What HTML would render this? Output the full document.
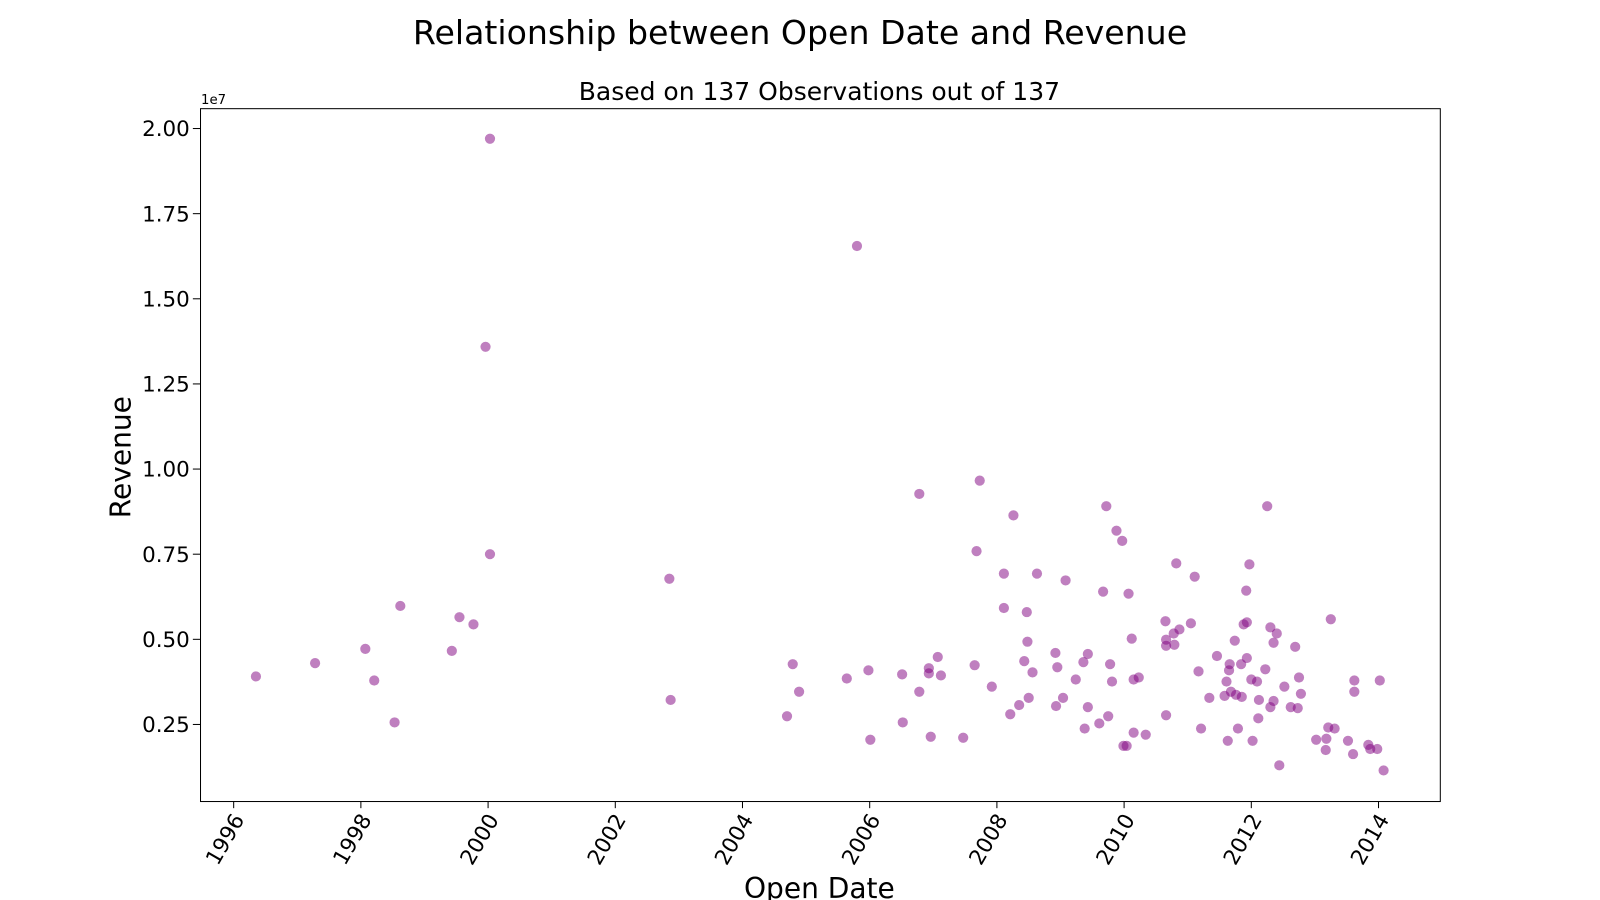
<!DOCTYPE html>
<html><head><meta charset="utf-8"><style>
html,body{margin:0;padding:0;background:#fff;}
svg{display:block;font-family:"DejaVu Sans","Liberation Sans",sans-serif;}
</style></head><body>
<svg id="chart" width="1600" height="900" viewBox="0 0 1568 882" xmlns="http://www.w3.org/2000/svg">
<text x="784" y="43" font-size="32.5" text-anchor="middle" fill="#000">Relationship between Open Date and Revenue</text>
<text x="803" y="98" font-size="24.5" text-anchor="middle" fill="#000">Based on 137 Observations out of 137</text>
<text x="197" y="102" font-size="13" fill="#000">1e7</text>
<text x="0" y="0" font-size="27.5" text-anchor="middle" transform="translate(128,448) rotate(-90)" fill="#000">Revenue</text>
<text x="803" y="880" font-size="27.5" text-anchor="middle" fill="#000">Open Date</text>
<g id="points"></g>
<g id="axes"></g>
<rect x="196.5" y="106.5" width="1215" height="679" fill="none" stroke="#000" stroke-width="1"/>
</svg>
<script>
const years = [1996.35,1997.28,1998.07,1998.21,1998.53,1998.62,1999.43,1999.55,1999.77,1999.96,2000.03,2000.03,2002.85,2002.87,2004.70,2004.79,2004.89,2005.64,2005.80,2005.98,2006.01,2006.51,2006.52,2006.78,2006.78,2006.93,2006.93,2006.96,2007.07,2007.12,2007.47,2007.65,2007.68,2007.73,2007.92,2008.11,2008.11,2008.21,2008.26,2008.35,2008.43,2008.47,2008.48,2008.50,2008.56,2008.63,2008.92,2008.93,2008.95,2009.04,2009.08,2009.24,2009.36,2009.38,2009.43,2009.43,2009.61,2009.67,2009.72,2009.75,2009.78,2009.81,2009.88,2009.97,2009.99,2010.04,2010.07,2010.12,2010.15,2010.15,2010.23,2010.34,2010.65,2010.66,2010.66,2010.66,2010.78,2010.79,2010.82,2010.87,2011.05,2011.11,2011.17,2011.21,2011.34,2011.46,2011.58,2011.61,2011.63,2011.65,2011.66,2011.68,2011.74,2011.76,2011.79,2011.84,2011.85,2011.88,2011.92,2011.93,2011.93,2011.97,2012.00,2012.02,2012.09,2012.11,2012.12,2012.22,2012.25,2012.30,2012.30,2012.35,2012.35,2012.40,2012.44,2012.52,2012.62,2012.69,2012.73,2012.75,2012.78,2013.02,2013.17,2013.18,2013.21,2013.25,2013.31,2013.52,2013.60,2013.62,2013.62,2013.84,2013.87,2013.98,2014.02,2014.08];
const revenueMillions = [3.91,4.30,4.72,3.79,2.56,5.98,4.66,5.65,5.44,13.59,19.70,7.50,6.78,3.22,2.74,4.27,3.46,3.85,16.55,4.09,2.05,3.97,2.56,9.27,3.46,4.15,4.00,2.14,4.48,3.94,2.11,4.24,7.59,9.66,3.61,6.93,5.92,2.80,8.64,3.07,4.36,5.80,4.93,3.28,4.03,6.93,4.60,3.04,4.18,3.28,6.73,3.82,4.33,2.38,4.57,3.01,2.53,6.40,8.91,2.74,4.27,3.76,8.19,7.89,1.87,1.87,6.34,5.02,3.82,2.26,3.88,2.20,5.53,4.99,4.81,2.77,5.17,4.84,7.23,5.29,5.47,6.84,4.06,2.38,3.28,4.51,3.34,3.76,2.02,4.09,4.27,3.46,4.96,3.37,2.38,4.27,3.31,5.44,6.43,5.50,4.45,7.20,3.82,2.02,3.76,2.68,3.22,4.12,8.91,5.35,3.01,4.90,3.19,5.17,1.30,3.61,3.01,4.78,2.98,3.88,3.40,2.05,1.75,2.08,2.41,5.59,2.38,2.02,1.63,3.79,3.46,1.90,1.78,1.78,3.79,1.15];
const xTicks = [1996,1998,2000,2002,2004,2006,2008,2010,2012,2014];
const yTicks = [0.25,0.50,0.75,1.00,1.25,1.50,1.75,2.00];
const yTickLabels = ["0.25","0.50","0.75","1.00","1.25","1.50","1.75","2.00"];

const NS = "http://www.w3.org/2000/svg";
function xs(y){ return 229 + (y - 1996) * 62.33; }
function ys(m){ return 793.4 - (m / 25) * 83.43 * 10; }
const pts = document.getElementById('points');
for (let i = 0; i < years.length; i++) {
  const c = document.createElementNS(NS, 'circle');
  c.setAttribute('cx', xs(years[i]));
  c.setAttribute('cy', ys(revenueMillions[i]));
  c.setAttribute('r', 5);
  c.setAttribute('fill', 'rgba(128,0,128,0.5)');
  
  
  pts.appendChild(c);
}
const axes = document.getElementById('axes');
xTicks.forEach(t => {
  const x = xs(t);
  const l = document.createElementNS(NS, 'line');
  l.setAttribute('x1', x); l.setAttribute('x2', x);
  l.setAttribute('y1', 785); l.setAttribute('y2', 792);
  l.setAttribute('stroke', '#000');
  
  
  axes.appendChild(l);
  const tx = document.createElementNS(NS, 'text');
  tx.setAttribute('transform', 'translate(' + (x + 6) + ',800) rotate(-60)');
  tx.setAttribute('text-anchor', 'end');
  tx.setAttribute('dominant-baseline', 'middle');
  tx.setAttribute('font-size', '21');
  tx.textContent = t;
  
  
  axes.appendChild(tx);
});
yTicks.forEach((t, i) => {
  const y = ys(t * 10);
  const l = document.createElementNS(NS, 'line');
  l.setAttribute('x1', 189); l.setAttribute('x2', 196);
  l.setAttribute('y1', y); l.setAttribute('y2', y);
  l.setAttribute('stroke', '#000');
  
  
  axes.appendChild(l);
  const tx = document.createElementNS(NS, 'text');
  tx.setAttribute('x', 186); tx.setAttribute('y', y + 7.5);
  tx.setAttribute('text-anchor', 'end');
  tx.setAttribute('font-size', '21');
  tx.textContent = yTickLabels[i];
  
  
  axes.appendChild(tx);
});
</script>
</body></html>
